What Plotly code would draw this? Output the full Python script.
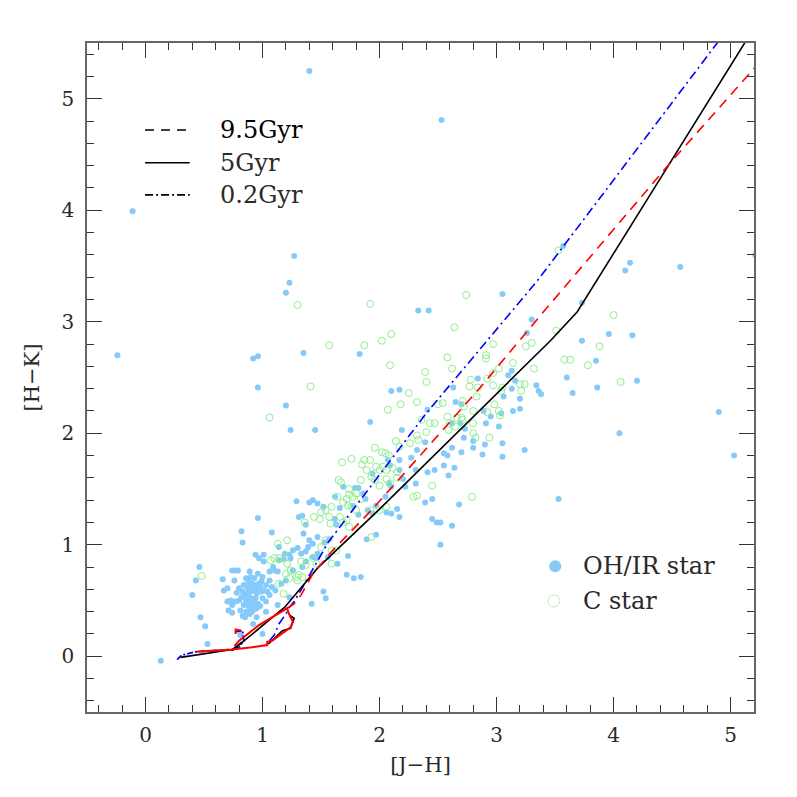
import plotly.graph_objects as go

# OH/IR stars  ([J-H], [H-K])
ohir_jh = [1.40, 2.53, -0.11, 1.27, 1.23, 1.20, 2.33, 2.42, -0.24, 0.92, 0.96, 1.35, 1.83, 0.96, 2.10, 2.17,
           1.20, 1.24, 1.45, 1.92, 2.19, 3.57, 4.10, 4.14, 4.57, 5.21,
           3.05, 3.73, 3.30, 3.26, 3.73, 3.96, 4.16, 3.85, 3.60, 3.86, 3.65, 4.20, 3.34, 3.36, 3.38, 3.10,
           3.13, 3.16, 3.13, 3.20, 3.20, 3.14, 3.06, 2.89, 2.95, 3.04, 3.02, 2.91, 2.84, 2.63, 2.65, 2.70,
           2.69, 2.62, 2.73, 2.72, 2.80, 2.90, 2.80, 2.70, 2.62, 2.55, 2.58, 2.88, 3.05, 3.05, 3.24, 2.55,
           2.64, 2.59, 2.68, 2.62, 2.52, 2.52, 3.53, 4.05, 4.90, 5.03,
           2.41, 2.39, 2.27, 2.32, 2.17, 2.07, 2.09, 2.17, 2.20, 1.94, 2.31, 2.41, 2.47, 1.69, 1.79, 1.82,
           1.86, 1.88, 1.62, 1.43, 1.40, 1.47, 1.52, 1.66, 1.31, 1.34, 1.37, 1.77, 1.82, 1.90, 1.97, 2.06,
           2.10, 2.15, 2.17, 1.94, 2.05, 2.45, 2.39, 2.45, 2.49, 2.31, 2.22, 2.08, 2.10, 1.62, 1.63,
           1.29, 0.96, 0.82, 0.83, 1.08, 0.46, 0.43, 0.40, 0.47, 0.66, 0.67, 0.70, 0.74, 0.77, 0.79, 0.76,
           0.89, 0.90, 0.86, 0.96, 1.00, 1.01, 1.06, 1.10, 1.13, 1.14, 1.18, 1.09, 1.16, 1.20, 1.11, 0.84,
           0.87, 0.91, 0.94, 0.97, 0.83, 0.87, 0.90, 0.93, 0.96, 0.99, 1.01, 1.04, 0.89, 0.91, 0.94, 0.89,
           0.93, 0.90, 0.96, 1.00, 1.03, 1.06, 0.80, 0.77, 0.73, 0.70, 0.71, 0.74, 0.81, 0.83, 0.91, 0.90,
           1.03, 1.13, 1.23, 1.26, 1.24, 1.52, 1.54, 1.42, 1.01, 0.94, 0.97, 1.35, 1.40, 1.43, 1.39, 1.30,
           1.33, 1.37, 1.43, 1.47, 1.47, 1.53, 1.57, 1.46, 1.56, 1.37, 1.34, 1.14, 1.19, 1.23, 1.26,
           0.13, 0.53, 0.51, 0.81, 0.92, 1.00, 0.85, 1.84, 1.78, 1.97, 1.73, 1.72, 1.64, 1.89, 0.74,
           0.85, 0.88, 0.92, 0.95, 0.98, 0.86, 0.90, 0.84, 0.88, 0.92, 0.95, 0.86, 0.89, 0.93, 0.98, 0.82,
           0.88, 0.93, 0.99, 1.03, 1.06, 0.80, 0.78, 0.95, 1.08]
ohir_hk = [5.25, 4.81, 3.99, 3.59, 3.35, 3.26, 3.10, 3.10, 2.70, 2.67, 2.69, 2.72, 2.71, 2.41, 2.38, 2.39,
           2.25, 2.03, 2.03, 2.10, 2.03, 3.68, 3.46, 3.53, 3.49, 3.60,
           3.25, 3.17, 3.02, 2.90, 2.83, 2.89, 2.88, 2.65, 2.50, 2.41, 2.36, 2.47, 2.43, 2.38, 2.35, 2.52,
           2.56, 2.47, 2.40, 2.31, 2.22, 2.20, 2.33, 2.20, 2.15, 2.18, 2.06, 2.09, 2.49, 2.41, 2.28, 2.26,
           2.09, 2.09, 2.04, 1.96, 1.93, 1.90, 1.87, 1.83, 1.87, 1.82, 1.80, 1.81, 1.91, 1.79, 1.85, 1.71,
           1.69, 1.62, 1.36, 1.17, 1.00, 1.20, 1.41, 2.00, 2.19, 1.80,
           2.21, 1.92, 1.78, 1.85, 1.76, 1.76, 1.71, 1.67, 1.59, 1.64, 1.67, 1.65, 1.67, 1.52, 1.51, 1.51,
           1.46, 1.41, 1.43, 1.40, 1.38, 1.37, 1.34, 1.33, 1.25, 1.26, 1.18, 1.35, 1.27, 1.31, 1.35, 1.29,
           1.28, 1.32, 1.25, 1.28, 1.43, 1.41, 1.38, 1.23, 1.20, 1.55, 1.52, 1.55, 1.52, 1.23, 1.18,
           1.39, 1.24, 1.12, 1.02, 1.11, 0.80, 0.68, 0.55, 0.35, 0.69, 0.59, 0.61, 0.77, 0.77, 0.77, 0.68,
           0.76, 0.71, 0.70, 0.74, 0.71, 0.85, 0.76, 0.77, 0.76, 0.86, 0.87, 0.80, 0.65, 0.68, 0.59, 0.64,
           0.62, 0.65, 0.64, 0.65, 0.58, 0.56, 0.58, 0.59, 0.60, 0.58, 0.59, 0.58, 0.53, 0.50, 0.52, 0.49,
           0.46, 0.44, 0.47, 0.52, 0.49, 0.55, 0.50, 0.49, 0.50, 0.49, 0.41, 0.46, 0.41, 0.36, 0.40, 0.43,
           0.40, 0.46, 0.53, 0.77, 0.88, 0.58, 0.52, 0.47, 0.91, 0.91, 0.88, 1.10, 1.04, 1.01, 0.98, 0.97,
           0.92, 0.94, 0.89, 0.92, 1.07, 1.02, 1.05, 0.88, 0.89, 0.85, 0.80, 0.98, 0.92, 0.91, 0.95,
           -0.04, 0.11, 0.27, 0.19, 0.29, 0.20, 0.35, 0.71, 0.70, 1.09, 0.90, 0.73, 0.83, 1.05, 0.39,
           0.55, 0.60, 0.62, 0.56, 0.62, 0.50, 0.52, 0.46, 0.45, 0.48, 0.43, 0.40, 0.38, 0.42, 0.45, 0.53,
           0.67, 0.70, 0.67, 0.64, 0.68, 0.61, 0.57, 0.35, 0.62]

# C stars
cstar_jh = [1.30, 1.92, 2.10, 2.02, 1.87, 1.57, 2.09, 2.39, 2.40, 1.41, 1.06, 2.25, 2.32, 2.18, 2.07, 3.53,
            2.74, 2.64, 4.00, 3.51, 3.30, 3.25, 2.97, 3.88, 2.91, 2.91, 2.58, 2.62, 3.58, 3.63, 3.78, 4.06,
            3.32, 3.14, 3.02, 2.97, 2.92, 2.78, 2.77, 2.84, 2.97, 3.05, 3.04, 3.20, 3.24, 3.21, 2.83, 2.71,
            2.72, 2.54, 2.98, 2.80, 2.92, 3.03, 3.02, 2.66, 2.58, 2.70, 2.71, 2.60, 2.65, 2.59, 2.80, 2.80,
            2.82, 2.94, 2.79,
            2.50, 2.36, 2.43, 2.47, 2.40, 2.33, 2.32, 2.26, 2.14, 2.17, 2.02, 2.05, 2.08, 1.96, 1.87, 1.92,
            1.85, 1.97, 2.00, 2.03, 2.06, 2.11, 2.15, 1.68, 1.76, 1.89, 1.93, 1.96, 2.06, 2.09, 1.67, 1.65,
            1.84, 2.00, 2.15, 1.74, 1.74, 1.77, 1.80, 1.84, 1.72, 1.64, 1.69, 1.73, 1.76, 1.80, 1.59, 1.54,
            1.50, 1.57, 1.66, 1.69, 1.72, 1.44, 1.49, 1.58, 1.36, 1.74, 2.00, 2.06, 1.92, 2.29, 2.32, 2.45,
            0.48, 1.13, 1.21, 1.07, 1.10, 1.14, 1.19, 1.21, 1.24, 1.20, 1.23, 1.14, 1.29, 1.30, 1.18, 1.31,
            1.34, 1.37, 1.33, 1.43, 1.46, 1.59, 1.59, 1.50, 1.54, 1.93, 1.63]
cstar_hk = [3.15, 3.16, 2.89, 2.83, 2.79, 2.79, 2.61, 2.55, 2.46, 2.42, 2.14, 2.36, 2.28, 2.26, 2.21, 3.64,
            3.24, 2.95, 3.06, 2.92, 2.81, 2.78, 2.80, 2.78, 2.70, 2.67, 2.68, 2.58, 2.66, 2.66, 2.61, 2.46,
            2.58, 2.63, 2.58, 2.54, 2.49, 2.48, 2.42, 2.41, 2.43, 2.41, 2.38, 2.44, 2.44, 2.38, 2.33, 2.29,
            2.24, 2.27, 2.26, 2.20, 2.19, 2.16, 2.20, 2.14, 2.15, 2.14, 2.12, 2.09, 2.06, 2.03, 2.09, 2.00,
            1.96, 1.96, 1.43,
            2.26, 2.12, 2.09, 2.09, 2.01, 1.94, 1.98, 1.91, 1.93, 1.88, 1.83, 1.82, 1.80, 1.87, 1.76, 1.76,
            1.72, 1.70, 1.67, 1.70, 1.67, 1.69, 1.65, 1.74, 1.77, 1.67, 1.61, 1.58, 1.59, 1.55, 1.56, 1.58,
            1.58, 1.53, 1.60, 1.50, 1.45, 1.43, 1.46, 1.41, 1.41, 1.43, 1.38, 1.35, 1.34, 1.31, 1.34, 1.31,
            1.29, 1.25, 1.25, 1.20, 1.22, 1.25, 1.23, 1.19, 1.20, 1.16, 1.31, 1.34, 1.31, 1.43, 1.44, 1.53,
            0.72, 1.01, 1.04, 0.86, 0.88, 0.88, 0.88, 0.83, 0.77, 0.74, 0.70, 0.65, 0.71, 0.68, 0.56, 0.73,
            0.71, 0.82, 0.85, 0.88, 0.83, 0.83, 0.95, 0.98, 1.04, 1.07, 0.95]

# isochrones (None = break in the track)
iso95_low_jh = [0.43, 0.74, 0.91, 1.04, 1.04, 1.085, 1.20, 1.24, 1.26, 1.23, 1.21, 0.97, 0.80, 0.76,
                None, 0.77, 0.77, 0.82]
iso95_low_hk = [0.04, 0.06, 0.08, 0.10, 0.13, 0.14, 0.23, 0.26, 0.31, 0.37, 0.43, 0.28, 0.14, 0.09,
                None, 0.20, 0.24, 0.23]
iso95_jh = [1.21, 1.27, 1.33, 1.43, 1.60, 1.94, 2.49, 2.86, 3.41, 4.48, 5.25]
iso95_hk = [0.43, 0.47, 0.55, 0.74, 0.95, 1.32, 1.97, 2.41, 3.10, 4.42, 5.33]

iso5_hook_jh = [0.30, 0.74, 0.83, None, 1.05, 1.17, 1.24, 1.27, 1.23]
iso5_hook_hk = [-0.01, 0.06, 0.13, None, 0.11, 0.23, 0.25, 0.34, 0.37]
iso5_jh = [0.74, 1.19, 1.47, 2.00, 3.46, 3.69, 5.15]
iso5_hk = [0.05, 0.44, 0.79, 1.32, 2.83, 3.09, 5.55]

iso02_low_jh = [0.27, 0.31, 0.43, 0.74, 0.80, 0.84, 0.83, 0.77]
iso02_low_hk = [-0.03, 0.01, 0.04, 0.06, 0.08, 0.14, 0.23, 0.22]
iso02_jh = [1.06, 1.10, 1.14, 1.20, 1.23, 1.27, 1.31, 1.56, 2.40, 3.35, 4.90]
iso02_hk = [0.14, 0.19, 0.29, 0.38, 0.44, 0.49, 0.56, 1.02, 2.18, 3.37, 5.52]

FONT = "DejaVu Serif"
TXT = "#2a2a2a"

fig = go.Figure()
fig.add_trace(go.Scatter(x=ohir_jh, y=ohir_hk, mode="markers",
                         marker=dict(size=6, color="#86CAF9")))
fig.add_trace(go.Scatter(x=cstar_jh, y=cstar_hk, mode="markers",
                         marker=dict(size=7, symbol="circle-open", color="#90EE90",
                                     line=dict(width=1, color="#90EE90"))))

fig.add_trace(go.Scatter(x=iso02_low_jh, y=iso02_low_hk, mode="lines",
                         line=dict(color="#0000FF", width=1.8, dash="6px,2px,2px,2px")))
fig.add_trace(go.Scatter(x=iso02_jh, y=iso02_hk, mode="lines",
                         line=dict(color="#0000FF", width=1.6, dash="9px,4px,2px,4px")))
fig.add_trace(go.Scatter(x=iso5_hook_jh, y=iso5_hook_hk, mode="lines",
                         line=dict(color="black", width=1.6)))
fig.add_trace(go.Scatter(x=iso5_jh, y=iso5_hk, mode="lines",
                         line=dict(color="black", width=1.6)))
fig.add_trace(go.Scatter(x=iso95_low_jh, y=iso95_low_hk, mode="lines",
                         line=dict(color="#FF0000", width=2)))
fig.add_trace(go.Scatter(x=iso95_jh, y=iso95_hk, mode="lines",
                         line=dict(color="#FF0000", width=1.6, dash="10px,7px")))

# legend keys drawn by hand (paper coordinates)
keys = [("9.5Gyr", "9px,7px", 0.870, "#000"),
        ("5Gyr", "solid", 0.821, TXT),
        ("0.2Gyr", "8px,3px,2px,3px", 0.773, TXT)]
for label, dash, yy, col in keys:
    fig.add_shape(type="line", xref="paper", yref="paper", x0=0.087, x1=0.154, y0=yy, y1=yy,
                  line=dict(color="black", width=1.6, dash=dash))
    fig.add_annotation(xref="paper", yref="paper", x=0.196, y=yy, text=label, showarrow=False,
                       xanchor="left", yanchor="middle", font=dict(family=FONT, size=24, color=col))

fig.add_shape(type="circle", xref="paper", yref="paper", xsizemode="pixel", ysizemode="pixel",
              xanchor=0.702, yanchor=0.218, x0=-6, x1=6, y0=-6, y1=6,
              fillcolor="#86CAF9", line=dict(width=0))
fig.add_shape(type="circle", xref="paper", yref="paper", xsizemode="pixel", ysizemode="pixel",
              xanchor=0.700, yanchor=0.166, x0=-6, x1=6, y0=-6, y1=6,
              line=dict(width=1, color="#B8F0B8"))
fig.add_annotation(xref="paper", yref="paper", x=0.740, y=0.218, text="OH/IR star", showarrow=False,
                   xanchor="left", yanchor="middle", font=dict(family=FONT, size=24, color=TXT))
fig.add_annotation(xref="paper", yref="paper", x=0.740, y=0.166, text="C star", showarrow=False,
                   xanchor="left", yanchor="middle", font=dict(family=FONT, size=24, color=TXT))

axis_style = dict(showgrid=False, zeroline=False, showline=True, linecolor="#666", linewidth=1.5,
                  mirror="allticks", ticks="inside", ticklen=15, tickwidth=1.2, tickcolor="#333",
                  minor=dict(dtick=0.2, ticks="inside", ticklen=7, tickwidth=1.2, tickcolor="#333"),
                  tickfont=dict(family=FONT, size=20, color=TXT), dtick=1)

fig.update_xaxes(range=[-0.5, 5.2], tick0=0, ticklabelstandoff=4,
                 title=dict(text="[J−H]", font=dict(family=FONT, size=21, color=TXT), standoff=12),
                 **axis_style)
fig.update_yaxes(range=[-0.5, 5.5], tick0=0, ticklabelstandoff=7,
                 title=dict(text="[H−K]", font=dict(family=FONT, size=21, color=TXT), standoff=16),
                 **axis_style)

# the page adds an 8px body margin, so the figure is 8px smaller to fit the window
fig.update_layout(width=789, height=789, margin=dict(l=79, r=43, t=35, b=85),
                  plot_bgcolor="white", paper_bgcolor="white", showlegend=False)

fig.write_html("out.html")
